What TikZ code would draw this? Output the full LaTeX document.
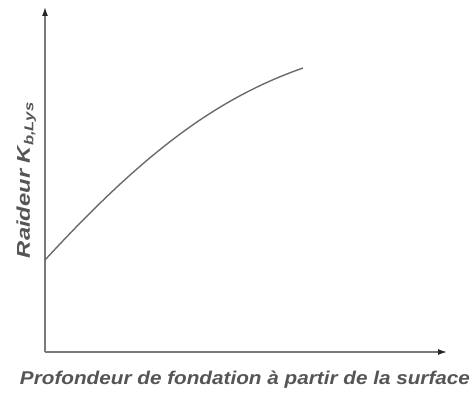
\documentclass[tikz,border=0pt]{standalone}
\usepackage{fontspec}
\usepackage{graphicx}
\setmainfont{Liberation Sans}
\usetikzlibrary{arrows.meta}
\definecolor{axisgray}{HTML}{7A7A7A}
\definecolor{curvegray}{HTML}{6A6A6A}
\definecolor{textgray}{HTML}{555555}
\begin{document}
\begin{tikzpicture}[x=1pt,y=1pt,
  axisline/.style={draw=axisgray,line width=1.4pt,-{Latex[length=9pt,width=6pt,color=black!85]}},
  curveline/.style={draw=curvegray,line width=1.4pt},
  axislabel/.style={text=textgray,font=\fontsize{18.5}{22}\selectfont\bfseries\itshape,inner sep=0pt,anchor=base}]
\useasboundingbox (0,0) rectangle (472,392);
\coordinate (O) at (45,40);
\coordinate (xend) at (447,40);
\coordinate (yend) at (45,385);
\coordinate (cstart) at (45,132);
\coordinate (cend) at (303,324);
\draw[axisline] (O) -- (yend);
\draw[axisline] (O) -- (xend);
\draw[curveline] (cstart) .. controls (140,235) and (213,292.5) .. (cend);
\node[axislabel] (xlabel) at (245,8) {\resizebox{450pt}{\height}{Profondeur de fondation à partir de la surface}};
\node[axislabel,rotate=90] (ylabel) at (30,212) {\resizebox{156pt}{\height}{Raideur K\textsubscript{b,Lys}}};
\end{tikzpicture}
\end{document}
